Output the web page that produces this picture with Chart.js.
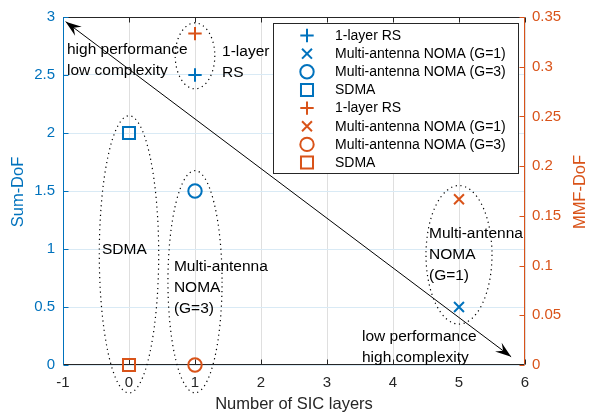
<!DOCTYPE html>
<html><head><meta charset="utf-8">
<script src="https://cdn.jsdelivr.net/npm/chart.js@4/dist/chart.umd.min.js"></script>
<style>html,body{margin:0;padding:0;background:#fff}#wrap{width:592px;height:415px}</style>
</head><body><div id="wrap"><canvas id="c" width="592" height="415"></canvas></div>
<script>
// ---- data ----
const categories = ['1-layer RS', 'Multi-antenna NOMA (G=1)', 'Multi-antenna NOMA (G=3)', 'SDMA'];
const sicLayers = [1, 5, 1, 0];
const sumDoF = [2.5, 0.5, 1.5, 2];
const mmfDoF = [0.3333, 0.1667, 0, 0];
const xTickValues = [-1, 0, 1, 2, 3, 4, 5, 6];
const xTickLabels = ['-1', '0', '1', '2', '3', '4', '5', '6'];
const yLeftTickValues = [0, 0.5, 1, 1.5, 2, 2.5, 3];
const yLeftTickLabels = ['0', '0.5', '1', '1.5', '2', '2.5', '3'];
const yRightTickValues = [0, 0.05, 0.1, 0.15, 0.2, 0.25, 0.3, 0.35];
const yRightTickLabels = ['0', '0.05', '0.1', '0.15', '0.2', '0.25', '0.3', '0.35'];

// ---- annotations (data coords on x / left y axis) ----
const ellipses = [
  {cx: 1, cy: 2.665, rx: 0.30, ry: 0.284},
  {cx: 0, cy: 0.954, rx: 0.45, ry: 1.195},
  {cx: 1, cy: 0.718, rx: 0.41, ry: 0.958},
  {cx: 5, cy: 0.95, rx: 0.5, ry: 0.597}
];
const arrowLine = {x1: -0.96, y1: 2.96, x2: 5.79, y2: 0.071};
const notes = [
  {x: -0.94, y: 2.72, lines: ['high performance', 'low complexity']},
  {x: 1.41, y: 2.70, lines: ['1-layer', 'RS']},
  {x: -0.41, y: 0.99, lines: ['SDMA']},
  {x: 0.68, y: 0.85, lines: ['Multi-antenna', 'NOMA', '(G=3)']},
  {x: 4.545, y: 1.135, lines: ['Multi-antenna', 'NOMA', '(G=1)']},
  {x: 3.53, y: 0.243, lines: ['low performance', 'high complexity']}
];

// ---- styles ----
const BLUE = '#0072BD', ORANGE = '#D95319', AX = '#262626';
const FONT = "'Liberation Sans', Arial, Helvetica, sans-serif";
const markerStyles = ['cross', 'crossRot', 'circle', 'rect'];
const markerRadius = {cross: 6.7, crossRot: 7, circle: 6.7, rect: 8.5};

function mkSets(values, color, axis) {
  return categories.map((c, i) => ({
    label: c,
    data: [{x: sicLayers[i], y: values[i]}],
    yAxisID: axis,
    pointStyle: markerStyles[i],
    pointRadius: markerRadius[markerStyles[i]],
    pointHoverRadius: markerRadius[markerStyles[i]],
    pointBorderColor: color,
    borderColor: color,
    pointBackgroundColor: 'rgba(0,0,0,0)',
    backgroundColor: 'rgba(0,0,0,0)',
    pointBorderWidth: 2,
    showLine: false,
    clip: false
  }));
}

function drawMarker(ctx, style, x, y, r) {
  ctx.beginPath();
  if (style === 'cross') {
    ctx.moveTo(x - r, y); ctx.lineTo(x + r, y);
    ctx.moveTo(x, y - r); ctx.lineTo(x, y + r);
  } else if (style === 'crossRot') {
    const d = r * Math.SQRT1_2;
    ctx.moveTo(x - d, y - d); ctx.lineTo(x + d, y + d);
    ctx.moveTo(x - d, y + d); ctx.lineTo(x + d, y - d);
  } else if (style === 'circle') {
    ctx.arc(x, y, r, 0, Math.PI * 2);
  } else {
    const s = r * Math.SQRT1_2;
    ctx.rect(x - s, y - s, 2 * s, 2 * s);
  }
  ctx.stroke();
}

const axesPlugin = {
  id: 'axesPlugin',
  beforeDatasetsDraw(chart) {
    const {ctx, chartArea: a, scales} = chart;
    ctx.save();
    ctx.lineWidth = 1;
    const L = Math.round(a.left) + 0.5, R = Math.round(a.right) - 0.5;
    const T = Math.round(a.top) + 0.5, B = Math.round(a.bottom) - 0.5;
    const tl = 5;
    // top & bottom
    ctx.strokeStyle = AX;
    ctx.beginPath();
    ctx.moveTo(L, T); ctx.lineTo(R, T);
    ctx.moveTo(L, B); ctx.lineTo(R, B);
    xTickValues.forEach(v => {
      const px = Math.round(scales.x.getPixelForValue(v)) + 0.5;
      ctx.moveTo(px, B); ctx.lineTo(px, B - tl);
      ctx.moveTo(px, T); ctx.lineTo(px, T + tl);
    });
    ctx.stroke();
    // left
    ctx.strokeStyle = BLUE;
    ctx.beginPath();
    ctx.moveTo(L, T); ctx.lineTo(L, B);
    yLeftTickValues.forEach(v => {
      const py = Math.round(scales.y.getPixelForValue(v)) + 0.5;
      ctx.moveTo(L, py); ctx.lineTo(L + tl, py);
    });
    ctx.stroke();
    // right
    ctx.strokeStyle = ORANGE;
    ctx.beginPath();
    ctx.moveTo(R, T); ctx.lineTo(R, B);
    yRightTickValues.forEach(v => {
      const py = Math.round(scales.y1.getPixelForValue(v)) + 0.5;
      ctx.moveTo(R, py); ctx.lineTo(R - tl, py);
    });
    ctx.stroke();
    ctx.restore();
  },
  afterDatasetsDraw(chart) {
    const {ctx, scales} = chart;
    const X = v => scales.x.getPixelForValue(v), Y = v => scales.y.getPixelForValue(v);
    const kx = Math.abs(X(1) - X(0)), ky = Math.abs(Y(0) - Y(1));
    ctx.save();
    // ellipses
    ctx.strokeStyle = '#000';
    ctx.lineWidth = 1.2;
    ctx.setLineDash([1.2, 3.6]);
    ellipses.forEach(e => {
      ctx.beginPath();
      ctx.ellipse(X(e.cx), Y(e.cy), e.rx * kx, e.ry * ky, 0, 0, Math.PI * 2);
      ctx.stroke();
    });
    ctx.setLineDash([]);
    // arrow
    const x1 = X(arrowLine.x1), y1 = Y(arrowLine.y1), x2 = X(arrowLine.x2), y2 = Y(arrowLine.y2);
    ctx.lineWidth = 1;
    ctx.beginPath(); ctx.moveTo(x1, y1); ctx.lineTo(x2, y2); ctx.stroke();
    function head(tx, ty, fx, fy) {
      const len = Math.hypot(tx - fx, ty - fy), ux = (tx - fx) / len, uy = (ty - fy) / len;
      const nx = -uy, ny = ux, HL = 16, HW = 5.5, notch = 10;
      ctx.beginPath();
      ctx.moveTo(tx, ty);
      ctx.lineTo(tx - HL * ux + HW * nx, ty - HL * uy + HW * ny);
      ctx.lineTo(tx - notch * ux, ty - notch * uy);
      ctx.lineTo(tx - HL * ux - HW * nx, ty - HL * uy - HW * ny);
      ctx.closePath();
      ctx.fillStyle = '#000';
      ctx.fill();
    }
    head(x2, y2, x1, y1);
    head(x1, y1, x2, y2);
    // notes
    ctx.fillStyle = '#000';
    ctx.font = '15.5px ' + FONT;
    ctx.textBaseline = 'middle';
    ctx.textAlign = 'left';
    notes.forEach(n => {
      n.lines.forEach((t, i) => ctx.fillText(t, X(n.x), Y(n.y) + i * 21));
    });
    ctx.restore();
  },
  afterDraw(chart) {
    const {ctx, chartArea: a} = chart;
    ctx.save();
    // legend
    const lx = 273.5, ly = 23.5, lw = 245, lh = 150;
    ctx.fillStyle = '#fff';
    ctx.fillRect(lx, ly, lw, lh);
    ctx.strokeStyle = AX; ctx.lineWidth = 1;
    ctx.strokeRect(lx, ly, lw, lh);
    ctx.font = '14px ' + FONT;
    ctx.textBaseline = 'middle';
    chart.data.datasets.forEach((ds, i) => {
      const cy = 35.5 + i * 18.15;
      ctx.strokeStyle = ds.pointBorderColor;
      ctx.lineWidth = 2;
      drawMarker(ctx, ds.pointStyle, 307, cy, ds.pointRadius);
      ctx.fillStyle = '#000';
      ctx.fillText(ds.label, 335, cy + 0.5);
    });
    // axis titles
    ctx.textAlign = 'center';
    ctx.textBaseline = 'middle';
    ctx.font = '16.5px ' + FONT;
    ctx.fillStyle = AX;
    ctx.fillText('Number of SIC layers', (a.left + a.right) / 2, 404);
    ctx.save();
    ctx.translate(18, 192); ctx.rotate(-Math.PI / 2);
    ctx.fillStyle = BLUE; ctx.fillText('Sum-DoF', 0, 0);
    ctx.restore();
    ctx.save();
    ctx.translate(580, 192); ctx.rotate(-Math.PI / 2);
    ctx.fillStyle = ORANGE; ctx.fillText('MMF-DoF', 0, 0);
    ctx.restore();
    ctx.restore();
  }
};

new Chart(document.getElementById('c'), {
  type: 'scatter',
  data: {datasets: [...mkSets(sumDoF, BLUE, 'y'), ...mkSets(mmfDoF, ORANGE, 'y1')]},
  options: {
    responsive: false,
    animation: false,
    devicePixelRatio: 1,
    layout: {padding: {top: 16, left: 0, right: 0, bottom: 0}},
    plugins: {legend: {display: false}, tooltip: {enabled: false}, title: {display: false}},
    events: [],
    scales: {
      x: {
        type: 'linear', position: 'bottom', min: -1, max: 6,
        afterBuildTicks: s => { s.ticks = xTickValues.map(v => ({value: v})); },
        afterFit: s => { s.height = 50; },
        ticks: {callback: v => xTickLabels[xTickValues.indexOf(v)], font: {family: FONT, size: 15}, color: AX, padding: 9, maxRotation: 0, autoSkip: false},
        grid: {color: '#dfdfdf', drawTicks: false},
        border: {display: false}
      },
      y: {
        type: 'linear', position: 'left', min: 0, max: 3,
        afterBuildTicks: s => { s.ticks = yLeftTickValues.map(v => ({value: v})); },
        afterFit: s => { s.width = 63; },
        ticks: {callback: v => yLeftTickLabels[yLeftTickValues.indexOf(v)], font: {family: FONT, size: 15}, color: BLUE, padding: 8, autoSkip: false},
        grid: {color: '#d9eaf5', drawTicks: false},
        border: {display: false}
      },
      y1: {
        type: 'linear', position: 'right', min: 0, max: 0.35,
        afterBuildTicks: s => { s.ticks = yRightTickValues.map(v => ({value: v})); },
        afterFit: s => { s.width = 67; },
        ticks: {callback: v => yRightTickLabels[yRightTickValues.indexOf(v)], font: {family: FONT, size: 15}, color: ORANGE, padding: 7, autoSkip: false},
        grid: {drawOnChartArea: false, drawTicks: false},
        border: {display: false}
      }
    }
  },
  plugins: [axesPlugin]
});
</script>
</body></html>
